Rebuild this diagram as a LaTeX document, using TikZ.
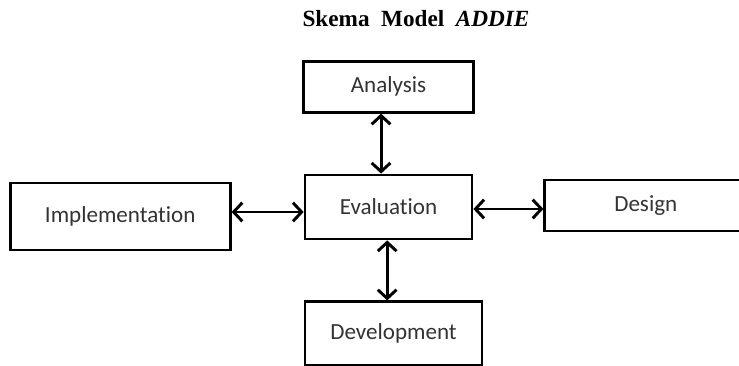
\documentclass[tikz,border=0pt]{standalone}
\usepackage{fontspec}
\setmainfont{Liberation Serif}
\newfontfamily\boxfont{Carlito}[Ligatures=NoCommon]
\usetikzlibrary{arrows.meta, positioning}

\begin{document}
\begin{tikzpicture}[x=0.75pt, y=0.75pt,
    box/.style={draw, line width=2.1pt, minimum height=48pt, inner sep=0pt, font=\boxfont\fontsize{17.3}{20}\selectfont, text=black!80},
    link/.style={{Straight Barb[length=6.5pt,width=14pt]}-{Straight Barb[length=6.5pt,width=14pt]}, line width=2.2pt}]
    \useasboundingbox (0,0) rectangle (739,-365);
    \node[font=\bfseries\fontsize{17.4}{20}\selectfont] (title) at (416,-19) {Skema\ \ Model\ \ \textit{ADDIE}};
    \node[box, minimum width=125.25pt] (eval) at (388.5,-207) {Evaluation};
    \node[box, minimum width=127.5pt, minimum height=38.25pt, above=45pt of eval] (analysis) {Analysis};
    \node[box, minimum width=132.75pt, below=45pt of eval, xshift=3.75pt] (dev) {Development};
    \node[box, minimum width=165pt, minimum height=50.25pt, left=54pt of eval, yshift=-7.1pt] (impl) {Implementation};
    \node[box, minimum width=151.5pt, minimum height=38.25pt, right=52.5pt of eval, yshift=1.1pt] (design) {Design};
    % arrows both ways between Evaluation and the other phases
    \draw[link] ([xshift=-5.6pt]eval.north |- analysis.south) -- ([xshift=-5.6pt]eval.north);
    \draw[link] ([xshift=-1pt]eval.south) -- ([xshift=-1pt]eval.south |- dev.north);
    \draw[link] ([yshift=-3.75pt]eval.west -| impl.east) -- ([yshift=-3.75pt]eval.west);
    \draw[link] ([yshift=-1.5pt]eval.east) -- ([yshift=-1.5pt]eval.east -| design.west);
\end{tikzpicture}
\end{document}
